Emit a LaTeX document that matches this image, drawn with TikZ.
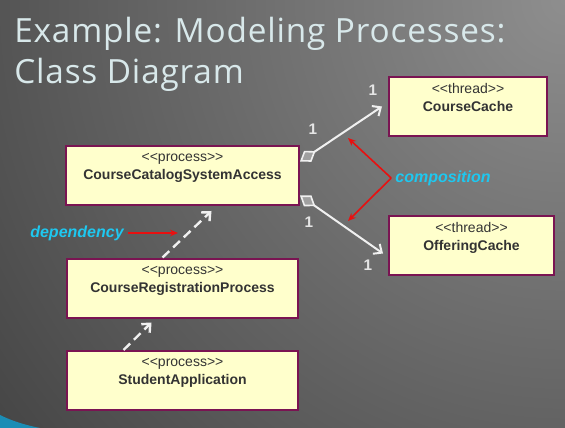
\documentclass[tikz,border=0pt]{standalone}
\usepackage{fontspec}
\setmainfont{Liberation Sans}
\newfontfamily\titlefont[LetterSpace=2.5]{Open Sans}
\usepackage{tikz}
\usetikzlibrary{arrows.meta,calc}
\usepackage{xcolor}
\definecolor{boxfill}{HTML}{FFFFCC}
\definecolor{boxline}{HTML}{7A1452}
\definecolor{notecyan}{HTML}{1EC8F0}
\definecolor{notered}{HTML}{E81010}
\definecolor{titlecol}{HTML}{D8E8EA}
\definecolor{bgdark}{HTML}{141414}
\definecolor{bglight}{HTML}{8E8E8E}
\definecolor{swoosh}{HTML}{1B8DB5}
\definecolor{diamondgray}{HTML}{A0A0A0}
\newcommand{\stype}[1]{<\kern0pt<#1>\kern0pt>}

\begin{document}
\begin{tikzpicture}[x=0.75pt,y=-0.75pt]
  \tikzset{classbox/.style={draw=boxline,fill=boxfill,line width=1.5pt,align=center,text=black!80,
      inner sep=0pt,minimum height=44.25pt,font=\fontsize{10.5}{13.5}\selectfont}}
  \tikzset{compedge/.style={draw=white!94!black,line width=1.5pt,
      {Diamond[fill=diamondgray,length=14pt,width=10pt,line width=1.2pt]}-{Straight Barb[length=5pt,width=9pt]}}}
  \tikzset{depedge/.style={draw=white!94!black,line width=1.8pt,dash pattern=on 7pt off 4pt,
      -{Straight Barb[length=5pt,width=9pt]}}}
  \tikzset{noteedge/.style={draw=notered,line width=1.2pt,-{Stealth[length=6pt,width=5pt]}}}
  \tikzset{multlabel/.style={text=white!90!black,inner sep=0pt,font=\bfseries\fontsize{11.5}{11.5}\selectfont}}
  \tikzset{notelabel/.style={text=notecyan,inner sep=3pt,font=\bfseries\itshape\fontsize{12}{12}\selectfont}}
  \useasboundingbox (0,0) rectangle (565,428);
  % background
  \begin{scope}
    \clip (0,0) rectangle (565,428);
    \shade[inner color=bglight,outer color=bgdark] (565,0) circle[radius=900pt];
    \fill[swoosh] (0,415) .. controls (12,421) and (25,425) .. (40,428) -- (0,428) -- cycle;
  \end{scope}
  \node[anchor=north west,align=left,text=titlecol,inner sep=0pt,
    font=\titlefont\fontsize{25}{30.5}\selectfont] (title) at (14,17) {Example: Modeling Processes:\\Class Diagram};
  % classes
  \node[classbox,minimum width=174.75pt] (access) at (182.5,175.5) {\stype{process}\\\textbf{CourseCatalogSystemAccess}\\\mbox{}};
  \node[classbox,minimum width=173.25pt] (regproc) at (182.5,288) {\stype{process}\\\textbf{CourseRegistrationProcess}\\\mbox{}};
  \node[classbox,minimum width=173.25pt] (student) at (182.5,380.5) {\stype{process}\\\textbf{StudentApplication}\\\mbox{}};
  \node[classbox,minimum width=118.5pt] (cache) at (468,106.5) {\stype{thread}\\\textbf{CourseCache}\\\mbox{}};
  \node[classbox,minimum width=123.75pt] (offer) at (471.5,245.5) {\stype{thread}\\\textbf{OfferingCache}\\\mbox{}};
  % composition
  \draw[compedge] ($(access.east)+(0,-14)$) -- ($(cache.west)+(-6,0)$);
  \draw[compedge] ($(access.east)+(0,20)$) -- ($(offer.west)+(-5,8)$);
  \node[multlabel] (m1) at (373,90) {1};
  \node[multlabel] (m2) at (313,129) {1};
  \node[multlabel] (m3) at (309,222) {1};
  \node[multlabel] (m4) at (368,265) {1};
  % dependency
  \draw[depedge] ($(regproc.north)+(-20,0)$) -- ($(access.south)+(29,5)$);
  \draw[depedge] ($(student.north)+(-59,0)$) -- ($(regproc.south)+(-31,4)$);
  % notes
  \node[notelabel] (comp) at (443,178) {composition};
  \node[notelabel] (dep) at (77,233) {dependency};
  \coordinate (hitA) at (348,138);
  \coordinate (hitB) at (348,221);
  \coordinate (hitD) at (178,233);
  \draw[noteedge] (comp.west) -- (hitA);
  \draw[noteedge] (comp.west) -- (hitB);
  \draw[noteedge] (dep.east) -- (hitD);
\end{tikzpicture}
\end{document}
